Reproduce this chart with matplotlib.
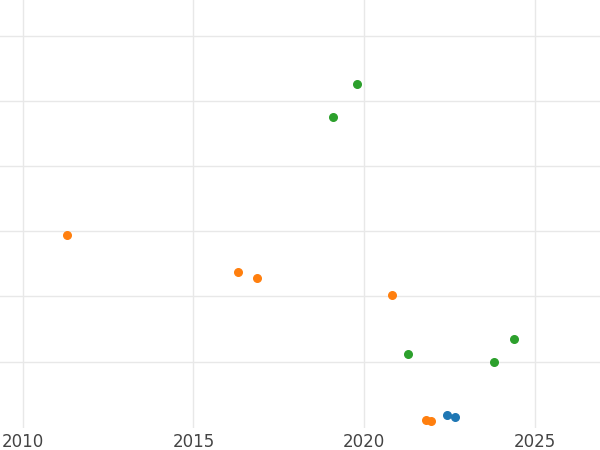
import matplotlib.pyplot as plt

# ── Podaci ──────────────────────────────────────────
green_x = [2019.8, 2019.09, 2021.29, 2023.82, 2024.41]
green_y = [5.26, 4.75, 1.12, 1.0, 1.34]
orange_x = [2011.29, 2016.32, 2016.85, 2020.82, 2021.82, 2021.97]
orange_y = [2.95, 2.37, 2.28, 2.02, 0.11, 0.09]
blue_x = [2022.44, 2022.68]
blue_y = [0.18, 0.15]

fig = plt.figure(figsize=(6, 4.5), dpi=100)
ax = fig.add_axes([0, 22 / 450, 1, 1 - 22 / 450])

ax.scatter(blue_x, blue_y, color='#1f77b4', s=30, zorder=3)
ax.scatter(orange_x, orange_y, color='#ff7f0e', s=30, zorder=3)
ax.scatter(green_x, green_y, color='#2ca02c', s=30, zorder=3)

ax.set_xlim(2009.33, 2026.92)
ax.set_ylim(-0.02, 6.55)
ax.set_xticks([2010, 2015, 2020, 2025])
ax.set_yticks([1, 2, 3, 4, 5, 6])
ax.set_yticklabels([])
ax.tick_params(length=0, labelsize=12, colors='#444444')
ax.grid(True, color='#e8e8e8', linewidth=1)
for s in ax.spines.values():
    s.set_visible(False)

plt.savefig('out.png', dpi=100)
